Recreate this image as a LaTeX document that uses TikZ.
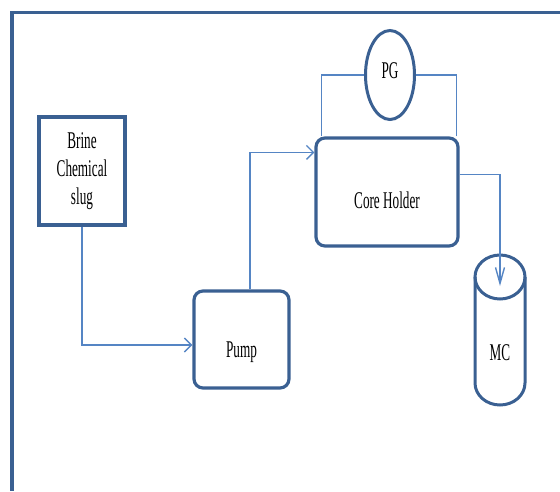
\documentclass[tikz,border=0pt]{standalone}
\usepackage{fontspec}
\usepackage{tikz}
\usetikzlibrary{arrows.meta,shapes.geometric}
\newfontfamily\figfont[FakeStretch=0.55]{Liberation Serif}
\definecolor{framecol}{HTML}{3A6092}
\definecolor{pipecol}{HTML}{5585C4}

\begin{document}
\begin{tikzpicture}[x=1pt,y=1pt,
            every node/.style={font=\figfont\fontsize{24}{28}\selectfont,inner sep=0pt},
            unitbox/.style={draw=framecol,line width=3.2pt,rounded corners=9pt},
            pipe/.style={draw=pipecol,line width=1.4pt},
            barbh/.style={-{Straight Barb[length=7pt,width=14pt]}},
            barbv/.style={-{Straight Barb[length=16pt,width=9pt]}}]
    \useasboundingbox (0,0) rectangle (560,-491);
    % frame
    \draw[framecol,line width=3.5pt] (560,-12.5) -- (12,-12.5) -- (12,-491);

    \node[draw=framecol,line width=4pt,minimum width=86pt,minimum height=108pt,
        align=center] (brine) at (82,-171) {Brine\\Chemical\\slug};
    \node[unitbox,minimum width=95pt,minimum height=97pt] (pump) at (241.5,-339.5) {};
    \node (pumplabel) at ([yshift=-13pt]pump.center) {Pump};
    \node[unitbox,minimum width=142pt,minimum height=108pt] (core) at (387,-192) {};
    \node (corelabel) at ([yshift=-8pt]core.center) {Core Holder};
    \node[ellipse,draw=framecol,line width=3pt,minimum width=49pt,minimum height=89pt]
        (pg) at (390,-75) {};
    \node (pglabel) at ([yshift=4pt]pg.center) {PG};

    % measuring cylinder
    \draw[framecol,line width=3pt] (500,-277) ellipse [x radius=25,y radius=22];
    \draw[framecol,line width=3pt] (475,-277) -- (475,-383)
        arc [start angle=180,end angle=360,x radius=25,y radius=22] -- (525,-277);
    \node (mc) at (500,-353) {MC};
    \coordinate (mctop) at (500,-286);

    % flow lines
    \draw[pipe,barbh] (brine.south) |- ([yshift=-5.5pt]pump.west);
    \draw[pipe,barbh] ([xshift=8.5pt]pump.north) |- ([yshift=-16pt]core.north west);
    \draw[pipe,barbv] ([yshift=-38pt]core.north east) -| (mctop);
    \draw[pipe] ([xshift=7pt]core.north west) |- (pg.west);
    \draw[pipe] ([xshift=-3pt]core.north east) |- (pg.east);
\end{tikzpicture}
\end{document}
